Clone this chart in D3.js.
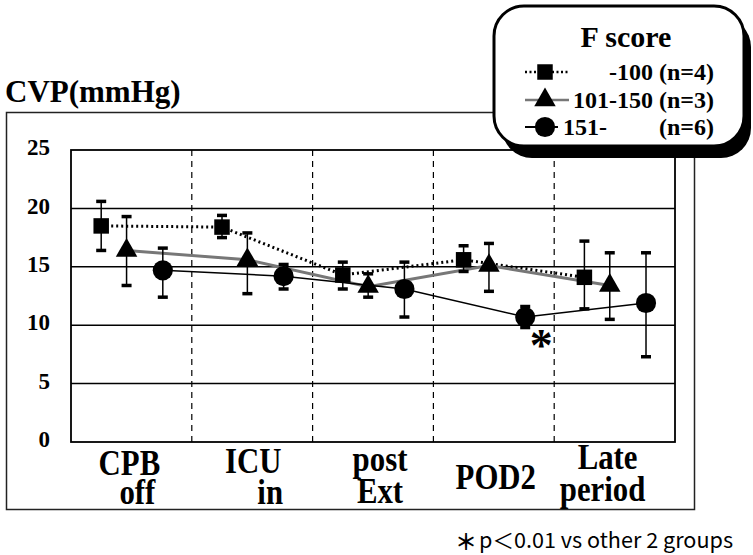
<!DOCTYPE html>
<html>
<head>
<meta charset="utf-8">
<script src="https://cdn.jsdelivr.net/npm/d3@7/dist/d3.min.js"></script>
<style>
  html, body { margin: 0; padding: 0; background: #fff; }
  svg { display: block; }
</style>
</head>
<body>
<svg id="chart" width="753" height="555"></svg>
<script>
// ---------------- data ----------------
const categories = ["CPB off", "ICU in", "post Ext", "POD2", "Late period"];
const yTicks = [0, 5, 10, 15, 20, 25];
const seriesNames = ["-100 (n=4)", "101-150 (n=3)", "151- (n=6)"];

// F score -100 (n=4)
const meanLow = [18.5, 18.4, 14.3, 15.6, 14.1];
const upLow   = [20.6, 19.4, 15.4, 16.8, 17.2];
const dnLow   = [16.4, 17.5, 13.1, 14.6, 11.4];
// F score 101-150 (n=3)
const meanMid = [16.4, 15.6, 13.3, 15.1, 13.4];
const upMid   = [19.3, 17.9, 14.4, 17.0, 16.2];
const dnMid   = [13.4, 12.7, 12.4, 12.9, 10.5];
// F score 151- (n=6)
const meanHigh = [14.7, 14.2, 13.1, 10.7, 11.9];
const upHigh   = [16.6, 15.2, 15.4, 11.6, 16.2];
const dnHigh   = [12.4, 13.1, 10.7,  9.8,  7.3];

const significant = [{series: 2, category: "POD2"}];
const footnote = "p\uFF1C0.01 vs other 2 groups";

// ---------------- layout ----------------
const svg = d3.select("#chart");
const serif = "Liberation Serif, Times New Roman, serif";
const plot = {left: 71, right: 675, top: 150, bottom: 442};

const x = d3.scaleBand().domain(categories).range([plot.left, plot.right]).padding(0);
const y = d3.scaleLinear().domain([0, 25]).range([plot.bottom, plot.top]);
const offset = d3.scaleOrdinal().domain([0, 1, 2]).range([0.25, 0.46, 0.76]);
const px = (s, c) => x(c) + offset(s) * x.bandwidth();

const series = [
  {mean: meanLow, up: upLow, dn: dnLow, shape: "square"},
  {mean: meanMid, up: upMid, dn: dnMid, shape: "triangle"},
  {mean: meanHigh, up: upHigh, dn: dnHigh, shape: "circle"}
];

function serifText(sel, size) {
  return sel.style("font-family", serif).style("font-weight", "bold")
    .style("font-size", size + "px").attr("fill", "#000");
}
// horizontally condense a text element by factor f
function condense(sel, f) {
  sel.each(function () {
    const w = this.getComputedTextLength();
    d3.select(this).attr("textLength", w * f).attr("lengthAdjust", "spacingAndGlyphs");
  });
}

// outer frame
svg.append("rect").attr("x", 6.5).attr("y", 112.5).attr("width", 688).attr("height", 397)
  .attr("fill", "none").attr("stroke", "#222").attr("stroke-width", 1.5);

// horizontal gridlines
svg.append("g").selectAll("line").data(yTicks.filter(t => t > 0 && t < 25)).join("line")
  .attr("x1", plot.left).attr("x2", plot.right)
  .attr("y1", d => y(d)).attr("y2", d => y(d))
  .attr("stroke", "#000").attr("stroke-width", 1.5);

// vertical dashed dividers
svg.append("g").selectAll("line").data(categories.slice(1)).join("line")
  .attr("x1", d => x(d)).attr("x2", d => x(d))
  .attr("y1", plot.top).attr("y2", plot.bottom)
  .attr("stroke", "#000").attr("stroke-width", 1.2).attr("stroke-dasharray", "6,5");

// plot border
svg.append("rect").attr("x", plot.left).attr("y", plot.top)
  .attr("width", plot.right - plot.left).attr("height", plot.bottom - plot.top)
  .attr("fill", "none").attr("stroke", "#000").attr("stroke-width", 1.8);

// y tick labels
const yAxis = d3.axisLeft(y).tickValues(yTicks).tickSize(0).tickPadding(21);
const yg = svg.append("g").attr("transform", `translate(${plot.left},0)`).call(yAxis);
yg.select(".domain").remove();
serifText(yg.selectAll("text"), 23).attr("dy", "0.2em");

// category labels
const cg = svg.append("g");
const line1Y = [475, 473, 471, 0, 469];
const line2Y = [504, 504, 503, 0, 501];
const shift1 = [-2, 1, 7, 2, -7];
const shift2 = [6, 18, 7, 0, -12];
categories.forEach((c, i) => {
  const parts = c.split(" ");
  const cx = x(c) + x.bandwidth() / 2;
  if (parts.length === 1) {
    const t = serifText(cg.append("text"), 35).attr("text-anchor", "middle")
      .attr("x", cx + shift1[i]).attr("y", 489).text(parts[0]);
    condense(t, 0.88);
  } else {
    const t1 = serifText(cg.append("text"), 35).attr("text-anchor", "middle")
      .attr("x", cx + shift1[i]).attr("y", line1Y[i]).text(parts[0]);
    const t2 = serifText(cg.append("text"), 35).attr("text-anchor", "middle")
      .attr("x", cx + shift2[i]).attr("y", line2Y[i]).text(parts[1]);
    condense(t1, 0.88);
    condense(t2, 0.88);
  }
});

// series lines
const lineStyles = [
  {stroke: "#000", width: 3, dash: "2,3"},
  {stroke: "#777", width: 3, dash: null},
  {stroke: "#000", width: 1.5, dash: null}
];
series.forEach((s, si) => {
  const line = d3.line().x((d, i) => px(si, categories[i])).y(d => y(d));
  svg.append("path").datum(s.mean).attr("d", line).attr("fill", "none")
    .attr("stroke", lineStyles[si].stroke).attr("stroke-width", lineStyles[si].width)
    .attr("stroke-dasharray", lineStyles[si].dash);
});

// error bars
series.forEach((s, si) => {
  const g = svg.append("g");
  categories.forEach((c, i) => {
    const cx = px(si, c);
    g.append("line").attr("x1", cx).attr("x2", cx).attr("y1", y(s.up[i])).attr("y2", y(s.dn[i]))
      .attr("stroke", "#000").attr("stroke-width", 1.5);
    [s.up[i], s.dn[i]].forEach(v => {
      g.append("line").attr("x1", cx - 5).attr("x2", cx + 5).attr("y1", y(v)).attr("y2", y(v))
        .attr("stroke", "#000").attr("stroke-width", 3.5);
    });
  });
});

// markers
const symbolFor = {
  square: d3.symbol().type(d3.symbolSquare).size(240),
  triangle: d3.symbol().type(d3.symbolTriangle).size(200),
  circle: d3.symbol().type(d3.symbolCircle).size(320)
};
series.forEach((s, si) => {
  svg.append("g").selectAll("path").data(s.mean).join("path")
    .attr("d", symbolFor[s.shape]())
    .attr("transform", (d, i) => `translate(${px(si, categories[i])},${y(d)})`)
    .attr("fill", "#000");
});

// significance asterisk
significant.forEach(sg => {
  const i = categories.indexOf(sg.category);
  svg.append("text").attr("x", px(sg.series, sg.category) + 16)
    .attr("y", y(series[sg.series].mean[i]) + 44)
    .attr("text-anchor", "middle").style("font-family", serif).style("font-weight", "bold")
    .style("font-size", "46px").attr("fill", "#000").text("*");
});

// y-axis title
serifText(svg.append("text"), 31).attr("x", 5).attr("y", 102).text("CVP(mmHg)");

// legend
const lg = svg.append("g");
lg.append("rect").attr("x", 502).attr("y", 17).attr("width", 249).attr("height", 141)
  .attr("rx", 30).attr("fill", "#000");
lg.append("rect").attr("x", 494).attr("y", 6).attr("width", 250).attr("height", 140)
  .attr("rx", 30).attr("fill", "#fff").attr("stroke", "#000").attr("stroke-width", 3);
serifText(lg.append("text"), 30).attr("x", 626).attr("y", 47).attr("text-anchor", "middle").text("F score");
const rowsY = [72, 100, 127];
series.forEach((s, si) => {
  const yy = rowsY[si];
  lg.append("line").attr("x1", 525).attr("x2", si === 2 ? 558 : 569).attr("y1", yy).attr("y2", yy)
    .attr("stroke", lineStyles[si].stroke).attr("stroke-width", si === 2 ? 2 : 2.5)
    .attr("stroke-dasharray", si === 0 ? "2,2.5" : null);
  lg.append("path").attr("d", symbolFor[s.shape]()).attr("transform", `translate(545,${yy})`).attr("fill", "#000");
});
const legendText = (txt, xx, yy, anchor) => serifText(lg.append("text"), 24)
  .attr("x", xx).attr("y", yy).attr("text-anchor", anchor).text(txt);
legendText(seriesNames[0], 714, rowsY[0] + 8, "end");
legendText(seriesNames[1], 714, rowsY[1] + 8, "end");
const p3 = seriesNames[2].split(" ");
legendText(p3[0], 563, rowsY[2] + 8, "start");
legendText(p3[1], 714, rowsY[2] + 8, "end");

// footnote
svg.append("text").attr("x", 455).attr("y", 550)
  .style("font-family", "Noto Sans CJK JP, sans-serif").style("font-weight", "bold")
  .style("font-size", "22px").attr("fill", "#000").text("\uFF0A");
svg.append("text").attr("x", 479).attr("y", 548)
  .style("font-family", "Noto Sans CJK JP, sans-serif")
  .style("font-size", "21px").attr("fill", "#000")
  .attr("textLength", 254).attr("lengthAdjust", "spacingAndGlyphs").text(footnote);
</script>
</body>
</html>
